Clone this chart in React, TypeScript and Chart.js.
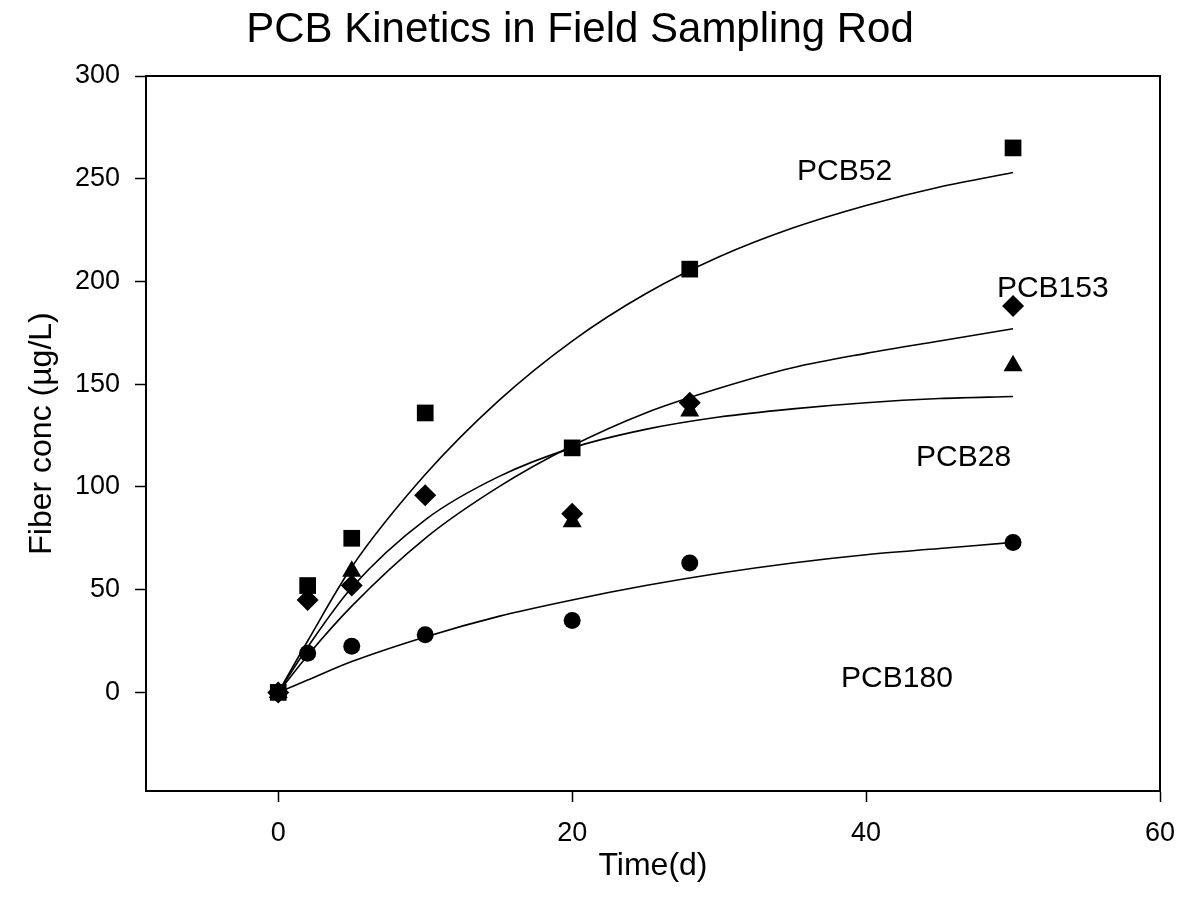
import React, { useEffect, useRef } from 'react';
import { Chart, registerables } from 'chart.js';

Chart.register(...registerables);

const TITLE = 'PCB Kinetics in Field Sampling Rod';
const X_TITLE = 'Time(d)';
const Y_TITLE = 'Fiber conc (µg/L)';
const X_TICKS = [0, 20, 40, 60];
const Y_TICKS = [0, 50, 100, 150, 200, 250, 300];

// measured points
const SQ_T = [0, 2, 5, 10, 20, 28, 50];
const SQ_V = [0, 52, 75, 136, 119, 206, 265];
const DIA_T = [0, 2, 5, 10, 20, 28, 50];
const DIA_V = [0, 45, 52, 96, 87, 141, 188];
const TRI_T = [0, 5, 20, 28, 50];
const TRI_V = [0, 59, 83, 137, 159];
const CIR_T = [0, 2, 5, 10, 20, 28, 50];
const CIR_V = [0, 19, 22.5, 28, 35, 63, 73];

// fitted curves
const FIT_T = [0, 2, 5, 10, 15, 20, 25, 30, 35, 40, 45, 50];
const FIT_PCB52 = [0, 25, 61, 106, 142, 171, 194, 212, 226, 237, 246, 253];
const FIT_PCB153 = [0, 18, 42, 75, 100, 120, 136, 148, 158, 165, 171, 177];
const FIT_PCB28 = [0, 22, 51, 84, 105, 119, 128, 134, 138, 141, 143, 144];
const FIT_PCB180 = [0, 6, 15, 27, 37, 45, 52, 58, 63, 67, 70, 73];

// curve labels (left, baseline in data units)
const LABEL_TEXT = ['PCB52', 'PCB153', 'PCB28', 'PCB180'];
const LABEL_X = [35.3, 48.9, 43.4, 38.3];
const LABEL_Y = [249.6, 192.4, 110, 2.5];

const FONT = "'Liberation Sans', Arial, Helvetica, sans-serif";

const pts = (t: number[], v: number[]) => t.map((x, i) => ({ x, y: v[i] }));

const framePlugin = {
  id: 'frameAndLabels',
  afterDraw(chart: any) {
    const { ctx, chartArea, scales } = chart;
    ctx.save();
    ctx.strokeStyle = '#000';
    ctx.lineWidth = 2;
    ctx.strokeRect(chartArea.left, chartArea.top, chartArea.right - chartArea.left, chartArea.bottom - chartArea.top);
    ctx.fillStyle = '#000';
    ctx.font = `30px ${FONT}`;
    ctx.textAlign = 'left';
    ctx.textBaseline = 'alphabetic';
    LABEL_TEXT.forEach((txt, i) => {
      ctx.fillText(txt, scales.x.getPixelForValue(LABEL_X[i]), scales.y.getPixelForValue(LABEL_Y[i]));
    });
    ctx.restore();
  },
};

export default function App() {
  const ref = useRef<HTMLCanvasElement | null>(null);
  useEffect(() => {
    if (!ref.current) return;
    const lineDs = (v: number[]) => ({
      data: pts(FIT_T, v),
      showLine: true,
      borderColor: '#000',
      borderWidth: 1.6,
      pointRadius: 0,
      cubicInterpolationMode: 'monotone' as const,
      fill: false,
      order: 10,
    });
    const markDs = (t: number[], v: number[], style: string, r: number, order: number) => ({
      data: pts(t, v),
      showLine: false,
      pointStyle: style,
      pointRadius: r,
      pointBackgroundColor: '#000',
      pointBorderColor: '#000',
      pointBorderWidth: 0,
      order,
    });
    const chart = new Chart(ref.current, {
      type: 'scatter',
      data: {
        datasets: [
          lineDs(FIT_PCB52),
          lineDs(FIT_PCB153),
          lineDs(FIT_PCB28),
          lineDs(FIT_PCB180),
          markDs(SQ_T, SQ_V, 'rect', 11.8, 1),
          markDs(DIA_T, DIA_V, 'rectRot', 11, 2),
          markDs(TRI_T, TRI_V, 'triangle', 11, 3),
          markDs(CIR_T, CIR_V, 'circle', 8.5, 4),
        ] as any,
      },
      options: {
        responsive: false,
        animation: false,
        events: [],
        layout: { padding: { left: 0, right: 19, top: 0, bottom: 0 } },
        plugins: {
          legend: { display: false },
          tooltip: { enabled: false },
          title: {
            display: true,
            text: TITLE,
            color: '#000',
            font: { family: FONT, size: 42, weight: 'normal', lineHeight: 1.2 },
            padding: { top: 5, bottom: 20.6 },
          },
        },
        scales: {
          x: {
            type: 'linear',
            min: -9,
            max: 60,
            afterBuildTicks: (s: any) => {
              s.ticks = X_TICKS.map((value) => ({ value }));
            },
            afterFit: (s: any) => {
              s.height = 107;
              s.paddingLeft = 0;
              s.paddingRight = 0;
            },
            grid: { drawOnChartArea: false, drawTicks: true, tickLength: 11, tickWidth: 1.5, tickColor: '#000' },
            border: { display: true, color: '#000', width: 2 },
            ticks: { color: '#000', font: { family: FONT, size: 27 }, padding: 15, maxRotation: 0 },
            title: {
              display: true,
              text: X_TITLE,
              color: '#000',
              font: { family: FONT, size: 32 },
              padding: { top: 0, bottom: 13 },
            },
          },
          y: {
            type: 'linear',
            min: -48,
            max: 300,
            afterBuildTicks: (s: any) => {
              s.ticks = Y_TICKS.map((value) => ({ value }));
            },
            afterFit: (s: any) => {
              s.width = 146;
              s.paddingTop = 0;
              s.paddingBottom = 0;
            },
            grid: { drawOnChartArea: false, drawTicks: true, tickLength: 11, tickWidth: 1.5, tickColor: '#000' },
            border: { display: true, color: '#000', width: 2 },
            ticks: { color: '#000', font: { family: FONT, size: 27 }, padding: 15 },
            title: {
              display: true,
              text: Y_TITLE,
              color: '#000',
              font: { family: FONT, size: 32 },
              padding: { top: 23, bottom: 0 },
            },
          },
        },
      } as any,
      plugins: [framePlugin],
    });
    return () => chart.destroy();
  }, []);
  return (
    <div style={{ position: 'absolute', left: 0, top: 0, width: 1179, height: 898, background: '#fff' }}>
      <canvas ref={ref} width={1179} height={898} style={{ display: 'block' }} />
    </div>
  );
}
